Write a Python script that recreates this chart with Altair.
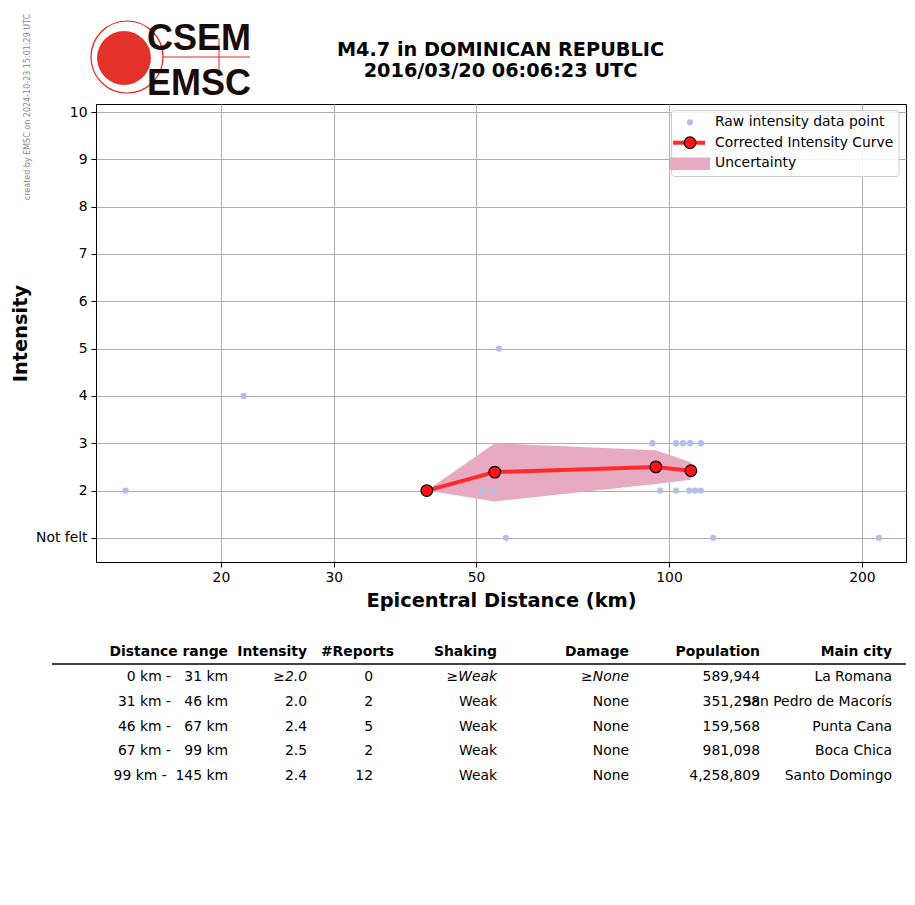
import altair as alt
import pandas as pd

# ---------------- data ----------------
raw_dist = [14.2, 21.7, 51.2, 53.4, 54.3, 55.7, 94.2, 96.9, 102.6, 102.6,
            105.2, 107.5, 107.9, 109.8, 112.2, 112.1, 117.2, 212.6]
raw_int = [2, 4, 2, 2, 5, 1, 3, 2, 3, 2, 3, 2, 3, 2, 3, 2, 1, 1]

curve_dist = [41.9, 53.5, 95.4, 108.2]
curve_int = [2.0, 2.39, 2.5, 2.42]
unc_upper = [2.0, 3.0, 2.85, 2.6]
unc_lower = [2.0, 1.77, 2.14, 2.23]

x_ticks = [20, 30, 50, 100, 200]
y_ticks = [1, 2, 3, 4, 5, 6, 7, 8, 9, 10]

title_lines = ["M4.7 in DOMINICAN REPUBLIC", "2016/03/20 06:06:23 UTC"]
legend_labels = ["Raw intensity data point", "Corrected Intensity Curve", "Uncertainty"]
watermark = "created by EMSC on 2024-10-23 15:01:29 UTC"

table_headers = ["Distance range", "Intensity", "#Reports", "Shaking", "Damage", "Population", "Main city"]
tbl_dist = ["0 km -   31 km", "31 km -   46 km", "46 km -   67 km", "67 km -   99 km", "99 km -  145 km"]
tbl_int = ["≥2.0", "2.0", "2.4", "2.5", "2.4"]
tbl_rep = ["0", "2", "5", "2", "12"]
tbl_shake = ["≥Weak", "Weak", "Weak", "Weak", "Weak"]
tbl_dmg = ["≥None", "None", "None", "None", "None"]
tbl_pop = ["589,944", "351,298", "159,568", "981,098", "4,258,809"]
tbl_city = ["La Romana", "San Pedro de Macorís", "Punta Cana", "Boca Chica", "Santo Domingo"]

# ---------------- styling ----------------
W, H = 810, 458
FONT = "DejaVu Sans"
RAW_C = "#b2bfec"
LINE_C = "#ff2a2a"
MARK_C = "#ff1414"
UNC_C = "#e8aac3"
RED_LOGO = "#e3261f"

one = pd.DataFrame({"k": [0]})
raw_df = pd.DataFrame({"dist": raw_dist, "intensity": raw_int})
curve_df = pd.DataFrame({"dist": curve_dist, "intensity": curve_int,
                         "upper": unc_upper, "lower": unc_lower})

xs = alt.Scale(type="log", domain=[12.77, 234.3], nice=False)
ys = alt.Scale(domain=[0.49, 10.17], nice=False, zero=False)
x_axis = alt.Axis(values=x_ticks, format="d", title="Epicentral Distance (km)",
                  titlePadding=8, labelPadding=3, tickSize=5, grid=True)
y_axis = alt.Axis(values=y_ticks, title="Intensity", titlePadding=5, labelPadding=4,
                  tickSize=5, grid=True,
                  labelExpr="datum.value == 1 ? 'Not felt' : datum.label")


def X():
    return alt.X("dist:Q", scale=xs, axis=x_axis)


def Y(field):
    return alt.Y(field, scale=ys, axis=y_axis)


area = alt.Chart(curve_df).mark_area(color=UNC_C, opacity=1).encode(
    x=X(), y=Y("lower:Q"), y2="upper:Q")
pts = alt.Chart(raw_df).mark_circle(color=RAW_C, size=40, opacity=1).encode(
    x=X(), y=Y("intensity:Q"))
line = alt.Chart(curve_df).mark_line(color=LINE_C, strokeWidth=4).encode(
    x=X(), y=Y("intensity:Q"))
marks = alt.Chart(curve_df).mark_circle(color=MARK_C, size=135, opacity=1,
                                        stroke="black", strokeWidth=1.2).encode(
    x=X(), y=Y("intensity:Q"))

# ---------------- legend ----------------
leg_box = alt.Chart(one).mark_rect(fill="white", fillOpacity=0.85, stroke="#cccccc",
                                   strokeWidth=1, cornerRadius=3).encode(
    x=alt.value(575.5), x2=alt.value(803), y=alt.value(6.5), y2=alt.value(72.5))
leg_pt = alt.Chart(one).mark_circle(color=RAW_C, size=40, opacity=1).encode(
    x=alt.value(594), y=alt.value(18.3))
leg_line = alt.Chart(one).mark_rule(color=LINE_C, strokeWidth=4).encode(
    x=alt.value(577), x2=alt.value(609), y=alt.value(38.7))
leg_mark = alt.Chart(one).mark_circle(color=MARK_C, size=135, opacity=1,
                                      stroke="black", strokeWidth=1.2).encode(
    x=alt.value(594), y=alt.value(38.7))
leg_rect = alt.Chart(one).mark_rect(color=UNC_C).encode(
    x=alt.value(574), x2=alt.value(614), y=alt.value(53.5), y2=alt.value(66))
leg_texts = [
    alt.Chart(one).mark_text(text=lab, align="left", baseline="middle",
                             font=FONT, fontSize=13.9, color="black").encode(
        x=alt.value(619), y=alt.value(yy))
    for lab, yy in zip(legend_labels, [18.3, 38.7, 59.3])
]

# ---------------- title / logo / watermark ----------------
titles = [
    alt.Chart(one).mark_text(text=t, align="center", baseline="alphabetic",
                             font=FONT, fontSize=19.3, fontWeight="bold",
                             color="black").encode(x=alt.value(404.5), y=alt.value(yy))
    for t, yy in zip(title_lines, [-48.2, -27.5])
]
wm = alt.Chart(one).mark_text(text=watermark, angle=270, align="center",
                              baseline="middle", font=FONT, fontSize=8,
                              color="#888888").encode(x=alt.value(-68), y=alt.value(3))
logo_ring = alt.Chart(one).mark_point(shape="circle", size=5184, filled=False,
                                      color=RED_LOGO, strokeWidth=1.2, opacity=1).encode(
    x=alt.value(31), y=alt.value(-47))
logo_disc = alt.Chart(one).mark_circle(size=2900, color=RED_LOGO, opacity=0.95).encode(
    x=alt.value(28), y=alt.value(-46))
logo_seis = alt.Chart(one).mark_rule(color=RED_LOGO, strokeWidth=1).encode(
    x=alt.value(67), x2=alt.value(154), y=alt.value(-47))
logo_spike = alt.Chart(one).mark_rule(color=RED_LOGO, strokeWidth=1).encode(
    x=alt.value(123), y=alt.value(-66), y2=alt.value(-28))
logo_txt = [
    alt.Chart(one).mark_text(text=t, align="left", baseline="alphabetic",
                             font="Liberation Sans", fontSize=36, fontWeight="bold",
                             color="#1a0a0a").encode(x=alt.value(51), y=alt.value(yy))
    for t, yy in zip(["CSEM", "EMSC"], [-54, -9])
]

# ---------------- table ----------------
header_rule = alt.Chart(one).mark_rule(color="black", strokeWidth=1.5).encode(
    x=alt.value(-44), x2=alt.value(810), y=alt.value(560))
header_x = [132, 211, 298, 401, 533, 664, 796]
headers = [
    alt.Chart(one).mark_text(text=h, align="right", baseline="middle", font=FONT,
                             fontSize=13.9, fontWeight="bold", color="black").encode(
        x=alt.value(hx), y=alt.value(548))
    for h, hx in zip(table_headers, header_x)
]

nb = lambda s: s.replace(" ", "\u00a0")
tbl = pd.DataFrame({
    "row": list(range(5)),
    "dist_range": [nb(s) for s in tbl_dist],
    "intensity": tbl_int,
    "reports": tbl_rep,
    "shaking": tbl_shake,
    "damage": tbl_dmg,
    "population": tbl_pop,
    "city": tbl_city,
})
row_y = alt.Y("row:Q", scale=alt.Scale(domain=[0, 4], range=[573, 672], nice=False, zero=False),
              axis=None)
col_defs = [("dist_range", 132, False), ("intensity", 211, True), ("reports", 277, False),
            ("shaking", 401, True), ("damage", 533, True), ("population", 664, False),
            ("city", 796, False)]
table_layers = []
for col, cx, ital in col_defs:
    base = alt.Chart(tbl)
    if ital:
        table_layers.append(
            base.transform_filter("datum.row == 0").mark_text(
                align="right", baseline="middle", font=FONT, fontSize=13.9,
                fontStyle="italic", color="black").encode(
                x=alt.value(cx), y=row_y, text=f"{col}:N"))
        table_layers.append(
            base.transform_filter("datum.row > 0").mark_text(
                align="right", baseline="middle", font=FONT, fontSize=13.9,
                color="black").encode(x=alt.value(cx), y=row_y, text=f"{col}:N"))
    else:
        table_layers.append(
            base.mark_text(align="right", baseline="middle", font=FONT, fontSize=13.9,
                           color="black").encode(x=alt.value(cx), y=row_y, text=f"{col}:N"))

main = alt.layer(area, pts, line, marks, leg_box, leg_pt, leg_line, leg_mark, leg_rect,
                 *leg_texts, *titles, wm, logo_ring, logo_disc, logo_seis, logo_spike,
                 *logo_txt, header_rule, *headers)
table = alt.layer(*table_layers)

chart = alt.layer(main, table).resolve_scale(y="independent").properties(
    width=W, height=H,
    padding={"left": 88, "top": 96, "right": 1, "bottom": 330},
    autosize=alt.AutoSizeParams(type="none"),
).configure_axis(
    labelFont=FONT, labelFontSize=13.9, labelColor="black",
    titleFont=FONT, titleFontSize=19.4, titleFontWeight="bold", titleColor="black",
    tickColor="black", tickWidth=1, domainColor="black", domainWidth=1,
    gridColor="#b0b0b0", gridWidth=1,
).configure_view(stroke="black", strokeWidth=1)

chart.save("out.html", embed_options={"renderer": "svg", "actions": False})
